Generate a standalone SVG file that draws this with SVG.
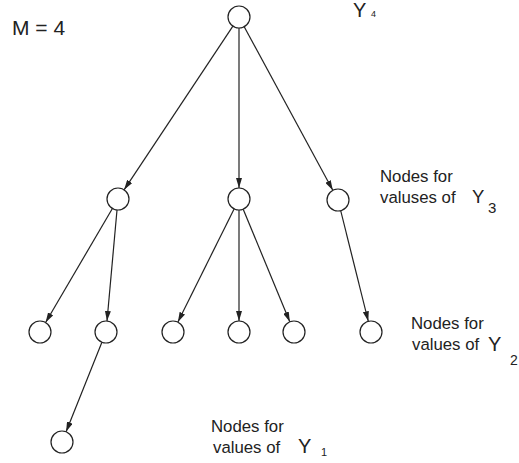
<svg xmlns="http://www.w3.org/2000/svg" width="519" height="463" viewBox="0 0 519 463">
<style>
.n{fill:#fff;stroke:#222;stroke-width:1.2}
.e{stroke:#222;stroke-width:1.2;fill:none;marker-end:url(#ah)}
text{font-family:"Liberation Sans",Arial,sans-serif;fill:#222}
.lb{font-size:16.8px}
.y{font-size:20px}
</style>
<defs>
<marker id="ah" viewBox="0 0 10 6" refX="10" refY="3" markerWidth="10" markerHeight="6" markerUnits="userSpaceOnUse" orient="auto">
<path d="M0,0 L10,3 L0,6 z" fill="#222"/>
</marker>
</defs>
<rect width="519" height="463" fill="#fff"/>
<g id="connectors">
<line class="e" x1="232.9" y1="26.2" x2="124.1" y2="189.8"/>
<line class="e" x1="239" y1="28" x2="239" y2="188"/>
<line class="e" x1="244.2" y1="26.7" x2="332.8" y2="190.3"/>
<line class="e" x1="112.4" y1="208.5" x2="45.6" y2="322.5"/>
<line class="e" x1="117" y1="210" x2="107" y2="321"/>
<line class="e" x1="234.1" y1="208.9" x2="177.9" y2="322.1"/>
<line class="e" x1="239" y1="210" x2="239" y2="321"/>
<line class="e" x1="243.2" y1="209.2" x2="289.8" y2="321.8"/>
<line class="e" x1="340.7" y1="210.7" x2="368.3" y2="321.3"/>
<line class="e" x1="101.9" y1="342.2" x2="66.1" y2="431.8"/>
</g>
<g id="root"><circle class="n" cx="239" cy="17" r="11"/></g>
<g id="y3a"><circle class="n" cx="118" cy="199" r="11"/></g>
<g id="y3b"><circle class="n" cx="239" cy="199" r="11"/></g>
<g id="y3c"><circle class="n" cx="338" cy="200" r="11"/></g>
<g id="y2a"><circle class="n" cx="40" cy="332" r="11"/></g>
<g id="y2b"><circle class="n" cx="106" cy="332" r="11"/></g>
<g id="y2c"><circle class="n" cx="173" cy="332" r="11"/></g>
<g id="y2d"><circle class="n" cx="239" cy="332" r="11"/></g>
<g id="y2e"><circle class="n" cx="294" cy="332" r="11"/></g>
<g id="y2f"><circle class="n" cx="371" cy="332" r="11"/></g>
<g id="y1a"><circle class="n" cx="62" cy="442" r="11"/></g>
<g id="labels">
<text x="12" y="35" style="font-size:21px">M = 4</text>
<text x="353" y="17" style="font-size:20px">Y</text>
<text x="371" y="17" style="font-size:9px">4</text>
<text x="380" y="182" class="lb">Nodes for</text>
<text x="380" y="203" class="lb">valuses of</text>
<text x="472" y="203" style="font-size:18.5px">Y</text>
<text x="488" y="213" style="font-size:15px">3</text>
<text x="411" y="329" class="lb">Nodes for</text>
<text x="412" y="350" class="lb">values of</text>
<text x="488" y="351" class="y">Y</text>
<text x="510" y="365" style="font-size:14px">2</text>
<text x="211" y="432" class="lb">Nodes for</text>
<text x="213" y="453" class="lb">values of</text>
<text x="298" y="453" class="y">Y</text>
<text x="321" y="456" style="font-size:11px">1</text>
</g>
</svg>
